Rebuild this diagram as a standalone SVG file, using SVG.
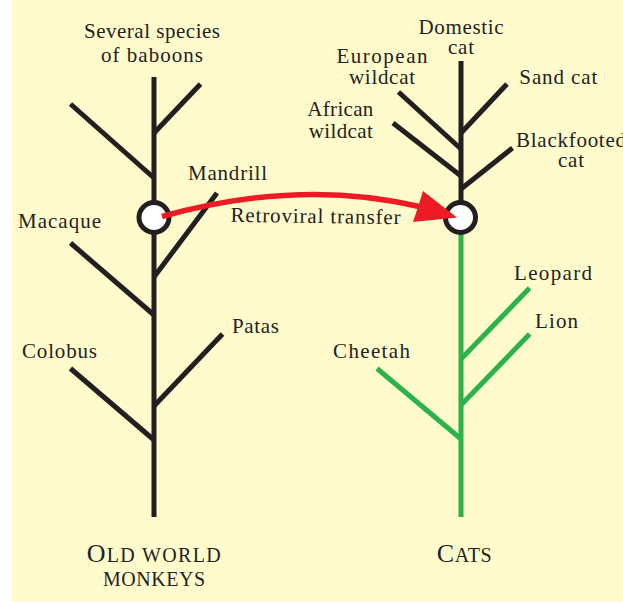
<svg xmlns="http://www.w3.org/2000/svg" width="623" height="602" viewBox="0 0 623 602">
<style>
  text { font-family: "Liberation Serif", "Times New Roman", serif; font-size: 21px; fill: #231f20; }
  .br { stroke: #231f20; stroke-width: 5; fill: none; stroke-linecap: butt; }
  .gr { stroke: #2bb34b; stroke-width: 5; fill: none; }
  .node { fill: #ffffff; stroke: #231f20; stroke-width: 5; }
  .cap { font-size: 20px; }
  .big { font-size: 26px; }
</style>
<rect x="0" y="0" width="623" height="602" fill="#ffffff"/>
<rect x="12" y="0" width="611" height="602" fill="#fffbcc"/>

<g id="monkeys">
  <line class="br" x1="154" y1="77" x2="154" y2="517"/>
  <g id="baboons">
    <line class="br" x1="200.5" y1="84" x2="154" y2="133"/>
    <line class="br" x1="70.5" y1="104" x2="154" y2="178"/>
    <text x="152" y="38" text-anchor="middle" textLength="136">Several species</text>
    <text x="152" y="62" text-anchor="middle" textLength="102">of baboons</text>
  </g>
  <g id="mandrill">
    <line class="br" x1="217" y1="193" x2="154" y2="277"/>
    <text x="188" y="180" textLength="79">Mandrill</text>
  </g>
  <g id="macaque">
    <line class="br" x1="70.5" y1="243" x2="154" y2="315"/>
    <text x="18" y="228" textLength="83">Macaque</text>
  </g>
  <g id="patas">
    <line class="br" x1="222.5" y1="334" x2="154" y2="406"/>
    <text x="232" y="333" textLength="47">Patas</text>
  </g>
  <g id="colobus">
    <line class="br" x1="70.5" y1="368.5" x2="154" y2="440"/>
    <text x="22" y="358" textLength="75">Colobus</text>
  </g>
  <g id="monkey-node">
    <circle class="node" cx="154" cy="217.5" r="15"/>
  </g>
  <g id="monkeys-label">
    <text x="86.7" y="562" textLength="134"><tspan class="big">O</tspan><tspan class="cap">LD WORLD</tspan></text>
    <text class="cap" x="103" y="586" textLength="102">MONKEYS</text>
  </g>
</g>

<g id="cats">
  <line class="br" x1="461" y1="61" x2="461" y2="210"/>
  <line class="gr" x1="461" y1="225" x2="461" y2="517"/>
  <g id="domestic">
    <text x="461" y="33.5" text-anchor="middle" textLength="85">Domestic</text>
    <text x="461" y="53.5" text-anchor="middle" textLength="26">cat</text>
  </g>
  <g id="sandcat">
    <line class="br" x1="507" y1="84" x2="461" y2="133"/>
    <text x="519.3" y="83.5" textLength="78">Sand cat</text>
  </g>
  <g id="european">
    <line class="br" x1="398.5" y1="92" x2="461" y2="149"/>
    <text x="382" y="63.3" text-anchor="middle" textLength="91">European</text>
    <text x="382" y="83.5" text-anchor="middle" textLength="66">wildcat</text>
  </g>
  <g id="african">
    <line class="br" x1="393" y1="123" x2="461" y2="176"/>
    <text x="340.3" y="116" text-anchor="middle" textLength="66">African</text>
    <text x="340.8" y="137.5" text-anchor="middle" textLength="64">wildcat</text>
  </g>
  <g id="blackfooted">
    <line class="br" x1="512.5" y1="148" x2="461" y2="189"/>
    <text x="516" y="146.7" textLength="110">Blackfooted</text>
    <text x="571" y="166.7" text-anchor="middle" textLength="26">cat</text>
  </g>
  <g id="leopard">
    <line class="gr" x1="529.6" y1="288" x2="461" y2="359"/>
    <text x="514" y="280" textLength="78">Leopard</text>
  </g>
  <g id="lion">
    <line class="gr" x1="529.6" y1="334" x2="461" y2="405"/>
    <text x="535" y="328" textLength="43">Lion</text>
  </g>
  <g id="cheetah">
    <line class="gr" x1="377" y1="368.5" x2="461" y2="439"/>
    <text x="333" y="358" textLength="77">Cheetah</text>
  </g>
  <g id="cat-node">
    <circle class="node" cx="460.5" cy="217.5" r="15"/>
  </g>
  <g id="cats-label">
    <text x="436.7" y="562" textLength="55"><tspan class="big">C</tspan><tspan class="cap">ATS</tspan></text>
  </g>
</g>

<g id="connectors">
  <path d="M162,216.5 Q300,178 419,206.5" fill="none" stroke="#ed1c24" stroke-width="5.5"/>
  <polygon points="423,191 457,217.5 413,222 418,207" fill="#ed1c24"/>
  <text x="230.5" y="223" textLength="170" transform="rotate(0.8 315 223)">Retroviral transfer</text>
</g>
</svg>
